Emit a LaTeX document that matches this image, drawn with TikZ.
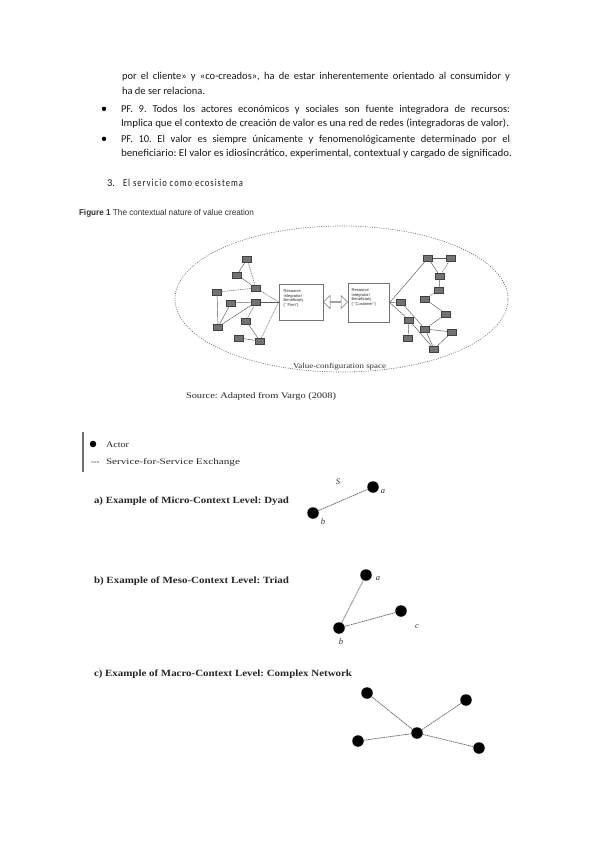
\documentclass[tikz,border=0pt]{standalone}
\usepackage{fontspec}
\setmainfont{Liberation Serif}
\newfontfamily\calfont{Carlito}
\newfontfamily\spacedfont[LetterSpace=12]{Carlito}
\newfontfamily\arialfont{Liberation Sans}
\usepackage{graphicx}
\usetikzlibrary{shapes.arrows}
\newcommand{\fitw}[2]{\resizebox{#1}{\height}{#2}}
\frenchspacing
\tikzset{
  txt/.style={anchor=base west, inner sep=0pt, outer sep=0pt},
  body/.style={txt, font=\calfont\fontsize{10.5}{12}\selectfont, text=black!90},
  bul/.style={circle, fill=black, minimum size=4.4pt, inner sep=0pt},
  sq/.style={draw=black!75, fill=black!55, minimum width=9pt, minimum height=6pt, inner sep=0pt, line width=0.4pt},
  ln/.style={draw=black!65, line width=0.45pt},
  lnd/.style={ln, dash pattern=on 1.5pt off 0.8pt},
  ibox/.style={draw=black!55, line width=0.5pt, fill=white, inner sep=0pt},
  boxtxt/.style={font=\arialfont\fontsize{4}{4.5}\selectfont, text=black!85, align=left, anchor=north west, inner sep=0pt},
  dot/.style={circle, fill=black, minimum size=11.5pt, inner sep=0pt},
  ex/.style={draw=black!60, line width=0.7pt, dash pattern=on 1.6pt off 0.6pt},
  lab/.style={font=\fontsize{8.5}{9}\selectfont\itshape, text=black!80, inner sep=0pt},
  ttl/.style={txt, font=\fontsize{9.5}{11}\selectfont\bfseries, text=black!85}
}
\begin{document}
\begin{tikzpicture}[x=1pt,y=-1pt]
\useasboundingbox[fill=white] (0,0) rectangle (599,848);

% ---- body text ----
\node[body] (l1) at (122,79.5) {\makebox[388pt][s]{por el cliente» y «co-creados», ha de estar inherentemente orientado al consumidor y}};
\node[body] (l2) at (122,95) {ha de ser relaciona.};
\node[bul] (b1) at (104,108.8) {};
\node[body] (l3) at (121,112.5) {\makebox[389pt][s]{PF. 9. Todos los actores económicos y sociales son fuente integradora de recursos:}};
\node[body] (l4) at (121,127) {\fitw{388pt}{Implica que el contexto de creación de valor es una red de redes (integradoras de valor).}};
\node[bul] (b2) at (104,138.8) {};
\node[body] (l5) at (121,142.5) {\makebox[389pt][s]{PF. 10. El valor es siempre únicamente y fenomenológicamente determinado por el}};
\node[body] (l6) at (121,157) {\fitw{391pt}{beneficiario: El valor es idiosincrático, experimental, contextual y cargado de significado.}};

% ---- heading ----
\node[body] (h1) at (107,186) {3.};
\node[txt, font=\spacedfont\fontsize{10.5}{12}\selectfont, text=black!90] (h2) at (123,186) {\fitw{120pt}{El servicio como ecosistema}};

% ---- figure title ----
\node[txt, font=\arialfont\fontsize{8.5}{10}\selectfont, text=black!80] (ft) at (79,215) {\fitw{175pt}{\textbf{Figure 1} The contextual nature of value creation}};

% ---- ellipse ----
\draw[black!60, line width=0.6pt, dash pattern=on 1pt off 1.3pt] (341.5,299) ellipse [x radius=166.5, y radius=73];

% ---- central boxes ----
\node[ibox, minimum width=44pt, minimum height=36pt] (firm) at (301,302) {};
\node[boxtxt] (firmt) at (283.5,290) {Resource\\Integrator/\\Beneficiary\\(``Firm'')};
\node[ibox, minimum width=41pt, minimum height=39pt] (cust) at (369,302.5) {};
\node[boxtxt] (custt) at (351.5,289) {Resource\\Integrator/\\Beneficiary\\(``Customer'')};
\node[double arrow, draw=black!55, fill=white, line width=0.5pt, minimum width=13pt, minimum height=24pt, double arrow head extend=3pt, inner sep=0pt] (arr) at (335.5,302) {};

% ---- left network ----
\node[sq] (A) at (247,259) {};
\node[sq] (B) at (237,275) {};
\node[sq] (C) at (256,288) {};
\node[sq] (D) at (217,292) {};
\node[sq] (E) at (231,303) {};
\node[sq] (F) at (256,302) {};
\node[sq] (G) at (218,327) {};
\node[sq] (H) at (246,321) {};
\node[sq] (I) at (239,338) {};
\node[sq] (J) at (260,341) {};
\draw[ln] (A) -- (B);
\draw[lnd] (A) -- (C);
\draw[ln] (B) -- (C);
\draw[lnd] (D) -- (C);
\draw[ln] (D) -- (G);
\draw[ln] (E) -- (F);
\draw[ln] (G) -- (F);
\draw[ln] (G) -- (E);
\draw[lnd] (F) -- (H);
\draw[ln] (H) -- (J);
\draw[ln] (I) -- (J);
\draw[lnd] (C) -- (firm.west);
\draw[ln] (F) -- (firm.west);
\draw[lnd] (J) -- (firm.west);

% ---- right network ----
\node[sq] (a) at (428,258) {};
\node[sq] (b) at (451,258) {};
\node[sq] (c) at (440,276) {};
\node[sq] (d) at (439,290) {};
\node[sq] (e) at (425,299) {};
\node[sq] (f) at (401,302) {};
\node[sq] (g) at (446,314) {};
\node[sq] (h) at (409,320) {};
\node[sq] (i) at (425,329) {};
\node[sq] (j) at (452,332) {};
\node[sq] (k) at (408,338) {};
\node[sq] (l) at (434,349) {};
\draw[ln] (cust.east) -- (a);
\draw[ln] (a) -- (b);
\draw[ln] (a) -- (c);
\draw[lnd] (b) -- (c);
\draw[ln] (c) -- (d);
\draw[lnd] (d) -- (e);
\draw[ln] (e) -- (g);
\draw[ln] (g) -- (i);
\draw[ln] (cust.east) -- (f);
\draw[ln] (f) -- (i);
\draw[ln] (cust.east) -- (h);
\draw[ln] (h) -- (k);
\draw[ln] (h) -- (l);
\draw[ln] (i) -- (j);
\draw[ln] (i) -- (l);
\draw[ln] (j) -- (l);

\node[txt, font=\fontsize{7.5}{9}\selectfont, text=black!80] (vcs) at (293,368.5) {\fitw{93pt}{Value-configuration space}};
\node[txt, font=\fontsize{8.5}{10}\selectfont, text=black!85] (src) at (186,398) {\fitw{150pt}{Source: Adapted from Vargo (2008)}};

% ---- legend ----
\draw[black!55, line width=1.2pt] (83,432) coordinate (bar1) -- (83,472) coordinate (bar2);
\node[circle, fill=black, minimum size=6.5pt, inner sep=0pt] (ldot) at (93,444) {};
\node[txt, font=\fontsize{8.5}{10}\selectfont, text=black!85] (lact) at (106,447) {\fitw{23pt}{Actor}};
\node[txt, font=\fontsize{8.5}{10}\selectfont, text=black!85] (ldash) at (91,464) {-{}-{}-};
\node[txt, font=\fontsize{8.5}{10}\selectfont, text=black!85] (lsvc) at (106,464) {\fitw{134pt}{Service-for-Service Exchange}};

% ---- a) dyad ----
\node[ttl] (ta) at (94,503) {\fitw{195pt}{a) Example of Micro-Context Level: Dyad}};
\node[dot] (da) at (373,487) {};
\node[dot] (db) at (313,513) {};
\draw[ex] (db) -- (da);
\node[lab] (ls) at (338,482) {S};
\node[lab] (la) at (383,492) {a};
\node[lab] (lb) at (323,522) {b};

% ---- b) triad ----
\node[ttl] (tb) at (94,583) {\fitw{195pt}{b) Example of Meso-Context Level: Triad}};
\node[dot] (ta1) at (366,575) {};
\node[dot] (tc1) at (401,611) {};
\node[dot] (tb1) at (339,628) {};
\draw[ex] (tb1) -- (ta1);
\draw[ex] (tb1) -- (tc1);
\node[lab] (la2) at (378,579) {a};
\node[lab] (lc2) at (417,627) {c};
\node[lab] (lb2) at (341,642) {b};

% ---- c) network ----
\node[ttl] (tc) at (94,676) {\fitw{258pt}{c) Example of Macro-Context Level: Complex Network}};
\node[dot] (n1) at (367,693) {};
\node[dot] (n2) at (466,700) {};
\node[dot] (n3) at (417,733) {};
\node[dot] (n4) at (358,741) {};
\node[dot] (n5) at (479,748) {};
\draw[ex] (n3) -- (n1);
\draw[ex] (n3) -- (n2);
\draw[ex] (n3) -- (n4);
\draw[ex] (n3) -- (n5);
\end{tikzpicture}
\end{document}
